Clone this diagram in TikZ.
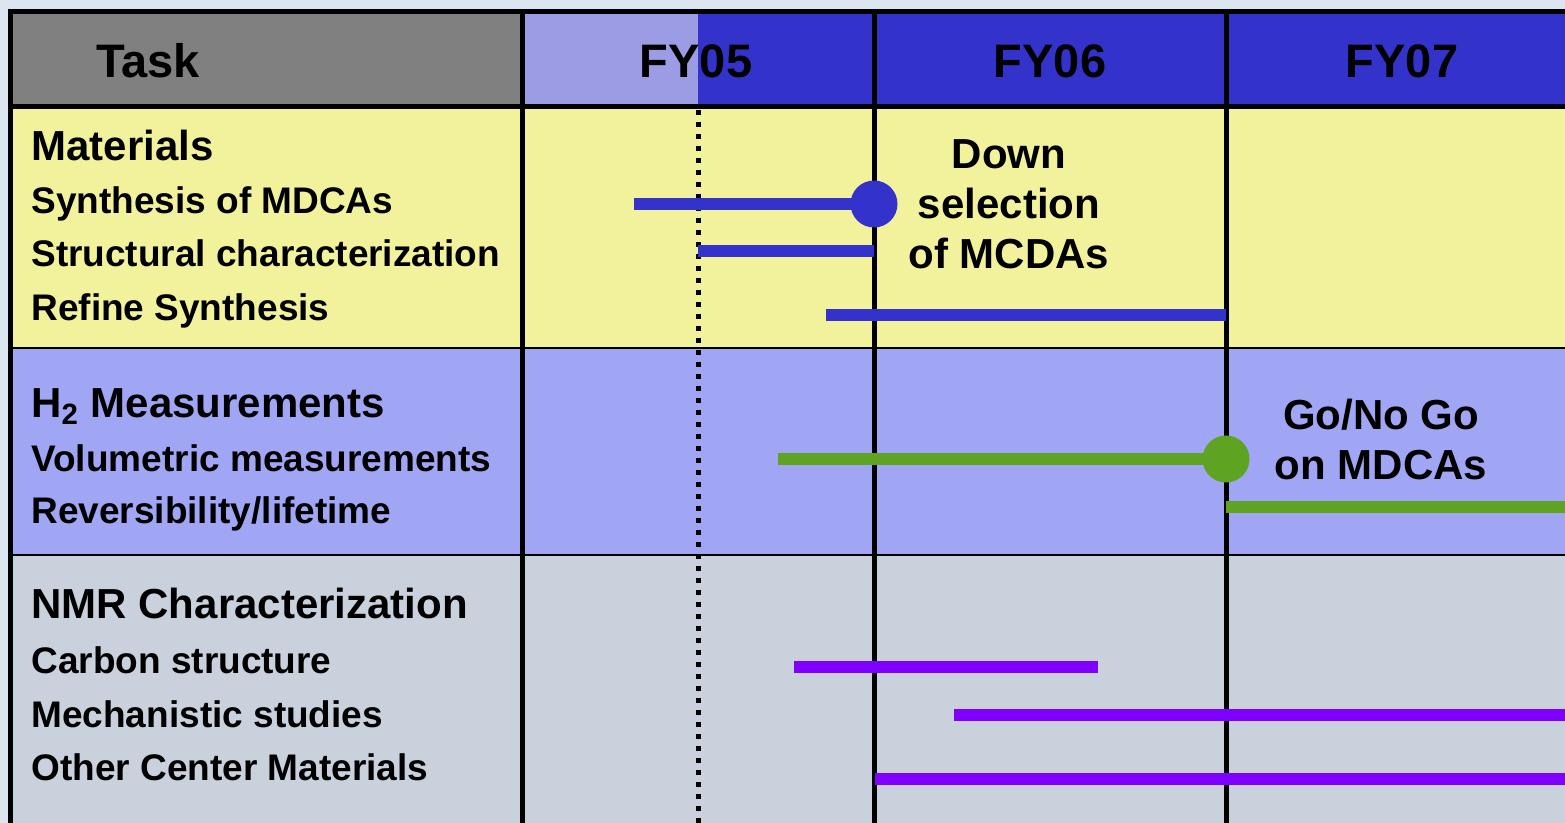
\documentclass[tikz,border=0pt]{standalone}
\usepackage{fontspec}
\setmainfont{Liberation Sans}
\usetikzlibrary{positioning}

\definecolor{pagebg}{HTML}{DCE6F0}
\definecolor{taskgray}{HTML}{808080}
\definecolor{fyblue}{HTML}{3333CC}
\definecolor{fypast}{HTML}{9C9CE4}
\definecolor{matyellow}{HTML}{F2F29C}
\definecolor{hyblue}{HTML}{A0A6F4}
\definecolor{nmrgray}{HTML}{C9D1DC}
\definecolor{bargreen}{HTML}{5FA323}
\definecolor{barpurple}{HTML}{7F00FF}

\begin{document}
\begin{tikzpicture}[x=0.5pt,y=-0.5pt,
  hdr/.style={font=\fontsize{23.5}{28}\selectfont\bfseries, anchor=base, inner sep=0pt},
  grp/.style={font=\fontsize{21}{25}\selectfont\bfseries, anchor=base west, inner sep=0pt},
  task/.style={font=\fontsize{18.5}{22}\selectfont\bfseries, anchor=base west, inner sep=0pt},
  note/.style={font=\fontsize{21}{25}\selectfont\bfseries, align=center, anchor=north, inner sep=0pt},
  bar/.style={line width=5.75pt},
  milestone/.style={circle, fill=#1, minimum size=23.5pt, inner sep=0pt},
  grid/.style={line width=2.5pt},
  sep/.style={line width=1pt}]

\useasboundingbox (0,0) rectangle (1565,823);
\clip (0,0) rectangle (1565,823);
\fill[pagebg] (0,0) rectangle (1565,823);

% cells
\fill[taskgray] (10,12) rectangle (522,107);
\fill[fyblue] (522,12) rectangle (1600,107);
\fill[fypast] (522,12) rectangle (698,107);
\fill[matyellow] (10,107) rectangle (1600,348);
\fill[hyblue] (10,348) rectangle (1600,555);
\fill[nmrgray] (10,555) rectangle (1600,830);

% grid
\draw[sep] (10,348) -- (1600,348);
\draw[sep] (10,555) -- (1600,555);
\draw[line width=2.5pt, dash pattern=on 2.5pt off 3.5pt] (698,110) -- (698,830);
\draw[grid] (10,830) -- (10,12) -- (1600,12);
\draw[grid] (10,107) -- (1600,107);
\foreach \x in {522,874,1226}
  \draw[grid] (\x,12) -- (\x,830);

% header
\node[hdr] (task) at (148,78) {Task};
\node[hdr] (fy05) at (696,78) {FY05};
\node[hdr] (fy06) at (1050,78) {FY06};
\node[hdr] (fy07) at (1402,78) {FY07};

% task labels
\node[grp]  (mat)   at (31,161) {Materials};
\node[task] (synth) at (31,214) {Synthesis of MDCAs};
\node[task] (struc) at (31,267) {Structural characterization};
\node[task] (refine) at (31,321) {Refine Synthesis};
\node[grp]  (htwo)  at (31,418) {H\textsubscript{2} Measurements};
\node[task] (volum) at (31,472) {Volumetric measurements};
\node[task] (revers) at (31,524) {Reversibility/lifetime};
\node[grp]  (nmr)   at (31,619) {NMR Characterization};
\node[task] (carbon) at (31,674) {Carbon structure};
\node[task] (mech)  at (31,727) {Mechanistic studies};
\node[task] (other) at (31,780) {Other Center Materials};

% bars
\node[milestone=fyblue] (downsel) at (874,204) {};
\draw[bar, fyblue] (634,204) -- (downsel.center);
\draw[bar, fyblue] (698,251) -- (874,251);
\draw[bar, fyblue] (826,315) -- (1226,315);
\node[milestone=bargreen] (gonogo) at (1226,459) {};
\draw[bar, bargreen] (778,459) -- (gonogo.center);
\draw[bar, bargreen] (1226,507) -- (1600,507);
\draw[bar, barpurple] (794,667) -- (1098,667);
\draw[bar, barpurple] (954,715) -- (1600,715);
\draw[bar, barpurple] (875,779) -- (1600,779);

% milestones
\node[note] (downtxt) at (1009,139) {Down\\selection\\of MCDAs};
\node[note] (gotxt) at (1381,399) {Go/No Go\\on MDCAs};

\end{tikzpicture}
\end{document}
